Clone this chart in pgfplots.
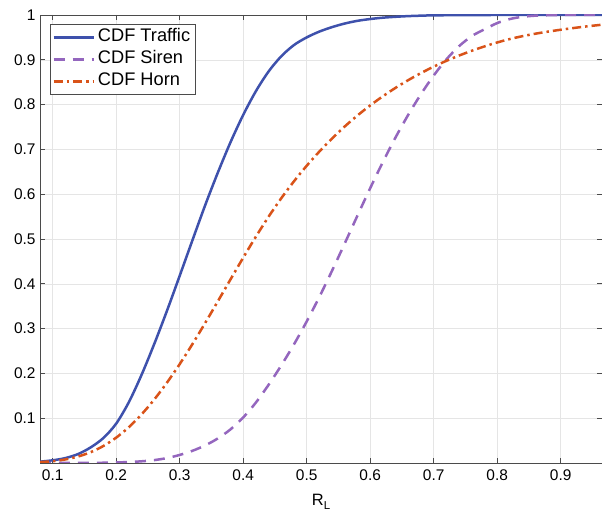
\documentclass[border=0pt]{standalone}
\usepackage{fontspec}
\setmainfont{Liberation Sans}
\usepackage{pgfplots}
\pgfplotsset{compat=1.18}
\usetikzlibrary{calc}
\definecolor{cblue}{RGB}{62,81,172}
\definecolor{cpurple}{RGB}{148,102,190}
\definecolor{corange}{RGB}{217,83,25}
\definecolor{axgray}{RGB}{75,75,75}
\begin{document}
\begin{tikzpicture}
\begin{axis}[
  scale only axis,
  width=562bp, height=448bp,
  xmin=0.08, xmax=0.965, ymin=0, ymax=1,
  xtick={0.1,0.2,0.3,0.4,0.5,0.6,0.7,0.8,0.9},
  ytick={0.1,0.2,0.3,0.4,0.5,0.6,0.7,0.8,0.9,1},
  xticklabels={0.1,0.2,0.3,0.4,0.5,0.6,0.7,0.8,0.9},
  yticklabels={0.1,0.2,0.3,0.4,0.5,0.6,0.7,0.8,0.9,1},
  tick align=inside, major tick length=5bp,
  tick style={axgray, line width=0.6pt},
  axis line style={axgray, line width=0.7pt},
  grid=major, major grid style={gray!20, line width=0.5pt},
  ticklabel style={font=\fontsize{15.5}{17}\selectfont, black},
  xticklabel style={yshift=-3bp},
  yticklabel style={xshift=-1bp},
  xlabel={R\raisebox{-0.45ex}{\fontsize{11.5}{12}\selectfont L}},
  xlabel style={font=\fontsize{16.5}{18}\selectfont, yshift=-7bp},
  legend style={at={(0.018,0.98)}, anchor=north west, draw=axgray, line width=0.7pt,
    font=\fontsize{18.3}{21}\selectfont, inner sep=2bp, row sep=0bp,
    nodes={text height=12.5bp, text depth=3.5bp, inner sep=3bp},
    cells={anchor=west}},
  legend image code/.code={\draw[#1] (0bp,0bp) -- (40bp,0bp);},
  /pgf/number format/assume math mode=true,
]
\coordinate (sw) at (rel axis cs:0,0);
\coordinate (ne) at (rel axis cs:1,1);
\addplot[cblue, line width=2.5bp, smooth] coordinates {
(0.08,0.003) (0.10,0.006) (0.12,0.011) (0.14,0.020) (0.16,0.035) (0.18,0.056)
(0.20,0.088) (0.22,0.136) (0.24,0.197) (0.26,0.266) (0.28,0.340) (0.30,0.418)
(0.32,0.497) (0.34,0.575) (0.36,0.648) (0.38,0.716) (0.40,0.777) (0.42,0.830)
(0.44,0.874) (0.46,0.908) (0.48,0.933) (0.50,0.950) (0.52,0.963) (0.54,0.973)
(0.56,0.981) (0.58,0.987) (0.60,0.991) (0.62,0.994) (0.64,0.996) (0.66,0.9975)
(0.68,0.9985) (0.70,0.9992) (0.75,0.9998) (0.80,1.0) (0.965,1.0)};
\addlegendentry{CDF Traffic}
\addplot[cpurple, line width=2.5bp, dash pattern=on 11bp off 8bp, smooth] coordinates {
(0.08,0.0) (0.16,0.0003) (0.18,0.0006) (0.20,0.0012) (0.22,0.0022) (0.24,0.0038)
(0.26,0.0065) (0.28,0.011) (0.30,0.018) (0.32,0.0272) (0.34,0.0392) (0.36,0.0548)
(0.38,0.0751) (0.40,0.1016) (0.42,0.135) (0.44,0.1746) (0.46,0.218) (0.48,0.265)
(0.50,0.316) (0.52,0.371) (0.54,0.4295) (0.56,0.4905) (0.58,0.5525) (0.60,0.6135)
(0.62,0.672) (0.64,0.727) (0.66,0.7775) (0.68,0.8235) (0.70,0.865) (0.72,0.901)
(0.74,0.9305) (0.76,0.953) (0.78,0.968) (0.80,0.982) (0.82,0.991) (0.84,0.996)
(0.86,0.9985) (0.88,0.9995) (0.90,1.0) (0.965,1.0)};
\addlegendentry{CDF Siren}
\addplot[corange, line width=2.5bp, dash pattern=on 9bp off 4bp on 2.5bp off 4bp, smooth] coordinates {
(0.08,0.002) (0.10,0.004) (0.12,0.008) (0.14,0.0145) (0.16,0.0243) (0.18,0.0381)
(0.20,0.0566) (0.22,0.0801) (0.24,0.1086) (0.26,0.1419) (0.28,0.1795) (0.30,0.2208)
(0.32,0.2653) (0.34,0.3123) (0.36,0.3608) (0.38,0.4098) (0.40,0.4583) (0.42,0.5053)
(0.44,0.5498) (0.46,0.5911) (0.48,0.6289) (0.50,0.6635) (0.52,0.6953) (0.54,0.7245)
(0.56,0.7513) (0.58,0.7758) (0.60,0.7982) (0.62,0.8187) (0.64,0.8375) (0.66,0.8547)
(0.68,0.8704) (0.70,0.8847) (0.72,0.8977) (0.74,0.9095) (0.76,0.9202) (0.78,0.9299)
(0.80,0.9387) (0.82,0.9464) (0.84,0.9528) (0.86,0.9582) (0.88,0.9629) (0.90,0.9671)
(0.92,0.9709) (0.94,0.9744) (0.965,0.9783)};
\addlegendentry{CDF Horn}
\end{axis}
\pgfresetboundingbox
\path ($(sw)+(-40bp,-49bp)$) rectangle ($(ne)+(0bp,15bp)$);
\end{tikzpicture}
\end{document}
